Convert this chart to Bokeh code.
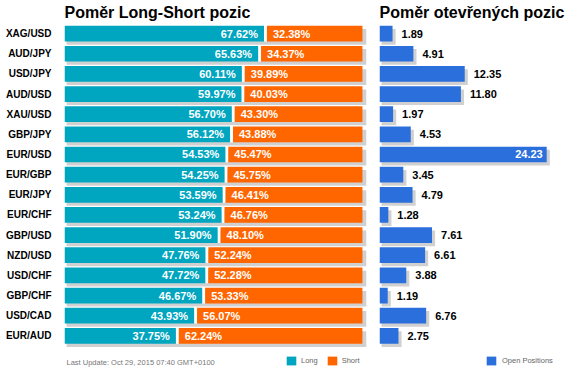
from bokeh.plotting import figure
from bokeh.models import Range1d, FixedTicker, ColumnDataSource, Legend, LegendItem, Label
from bokeh.layouts import row
from bokeh.embed import file_html
from bokeh.resources import INLINE
from bokeh.core.properties import value

pairs = ["XAG/USD", "AUD/JPY", "USD/JPY", "AUD/USD", "XAU/USD", "GBP/JPY", "EUR/USD", "EUR/GBP",
         "EUR/JPY", "EUR/CHF", "GBP/USD", "NZD/USD", "USD/CHF", "GBP/CHF", "USD/CAD", "EUR/AUD"]
long_pct = [67.62, 65.63, 60.11, 59.97, 56.70, 56.12, 54.53, 54.25, 53.59, 53.24, 51.90, 47.76, 47.72, 46.67, 43.93, 37.75]
short_pct = [32.38, 34.37, 39.89, 40.03, 43.30, 43.88, 45.47, 45.75, 46.41, 46.76, 48.10, 52.24, 52.28, 53.33, 56.07, 62.24]
open_pos = [1.89, 4.91, 12.35, 11.80, 1.97, 4.53, 24.23, 3.45, 4.79, 1.28, 7.61, 6.61, 3.88, 1.19, 6.76, 2.75]
update_text = "Last Update: Oct 29, 2015 07:40 GMT+0100"

TEAL = "#00A5BF"
ORANGE = "#FF6600"
BLUE = "#2A6FDB"
SHADOW = "#D0D0D0"
FONT = "Liberation Sans"

n = len(pairs)
idx = list(range(n))
BAR_H = 0.78
DY = 0.16          # shadow vertical offset (~3px)
GAP = 1.0          # gap between long and short (~3px)

src = ColumnDataSource(dict(
    y=idx,
    ys=[i + DY for i in idx],
    long=long_pct,
    short_left=[l + GAP for l in long_pct],
    short_right=[l + GAP + s for l, s in zip(long_pct, short_pct)],
    gap_right=[l + GAP for l in long_pct],
    long_lab=[f"{v:.2f}%" for v in long_pct],
    short_lab=[f"{v:.2f}%" for v in short_pct],
    sh_left=[0.7] * n,
    sh_right=[l + GAP + s + 1.3 for l, s in zip(long_pct, short_pct)],
))

y_range = Range1d(start=n - 1 + 1.82, end=-0.6)


def style(p):
    p.grid.visible = False
    p.outline_line_color = None
    p.xaxis.visible = False
    p.title.text_font = FONT
    p.title.text_font_size = "16px"
    p.title.text_font_style = "bold"
    p.title.text_color = "#000000"
    p.title.align = "left"
    p.title.offset = 0
    p.title.standoff = 2


p1 = figure(width=368, height=372, x_range=Range1d(0, 103.05), y_range=y_range,
            output_backend="svg", toolbar_location=None,
            min_border_left=64, min_border_right=0, min_border_top=0, min_border_bottom=0,
            title="Poměr Long-Short pozic")
style(p1)
p1.yaxis.ticker = FixedTicker(ticks=idx)
p1.yaxis.major_label_overrides = {i: pairs[i] for i in idx}
p1.yaxis.axis_line_color = None
p1.yaxis.major_tick_line_color = None
p1.yaxis.minor_tick_line_color = None
p1.yaxis.major_tick_out = 0
p1.yaxis.major_tick_in = 0
p1.yaxis.major_label_standoff = 13
p1.yaxis.major_label_text_font = FONT
p1.yaxis.major_label_text_font_size = "10px"
p1.yaxis.major_label_text_font_style = "bold"
p1.yaxis.major_label_text_color = "#000000"

p1.hbar(y="ys", left="sh_left", right="sh_right", height=BAR_H, source=src,
        fill_color=SHADOW, line_color=None)
p1.hbar(y="y", left="long", right="gap_right", height=BAR_H, source=src,
        fill_color="white", line_color=None)
r_long = p1.hbar(y="y", left=0, right="long", height=BAR_H, source=src,
                 fill_color=TEAL, line_color=None)
r_short = p1.hbar(y="y", left="short_left", right="short_right", height=BAR_H, source=src,
                  fill_color=ORANGE, line_color=None)
p1.text(x="long", y="y", text="long_lab", source=src, x_offset=-6,
        text_align="right", text_baseline="middle", text_color="white",
        text_font=value(FONT), text_font_size="11px", text_font_style="bold")
p1.text(x="short_left", y="y", text="short_lab", source=src, x_offset=6,
        text_align="left", text_baseline="middle", text_color="white",
        text_font=value(FONT), text_font_size="11px", text_font_style="bold")

leg1 = Legend(items=[LegendItem(label="Long", renderers=[r_long]),
                     LegendItem(label="Short", renderers=[r_short])],
              location=(221, 6), orientation="horizontal", padding=0, margin=0,
              border_line_color=None, background_fill_alpha=0,
              glyph_width=12, glyph_height=11, label_standoff=4, spacing=8,
              label_text_font=FONT, label_text_font_size="7.5px", label_text_color="#666666",
              label_width=10, label_height=11)
p1.add_layout(leg1)
p1.add_layout(Label(x=2, y=10, x_units="screen", y_units="screen", text=update_text,
                    text_font=FONT, text_font_size="7.5px", text_color="#777777",
                    text_baseline="middle"))

# right chart
src2 = ColumnDataSource(dict(
    y=idx, ys=[i + DY for i in idx], v=open_pos,
    sh_left=[0.3] * n, sh_right=[v + 0.45 for v in open_pos],
))
inside = [i for i in idx if open_pos[i] > 20]
outside = [i for i in idx if open_pos[i] <= 20]
lab_out = ColumnDataSource(dict(x=[open_pos[i] for i in outside], y=outside,
                                t=[f"{open_pos[i]:.2f}" for i in outside]))
lab_in = ColumnDataSource(dict(x=[open_pos[i] for i in inside], y=inside,
                               t=[f"{open_pos[i]:.2f}" for i in inside]))

p2 = figure(width=198, height=372, x_range=Range1d(0, 27.1), y_range=y_range,
            output_backend="svg", toolbar_location=None,
            min_border_left=11, min_border_right=0, min_border_top=0, min_border_bottom=0,
            title="Poměr otevřených pozic")
style(p2)
p2.yaxis.visible = False
p2.hbar(y="ys", left="sh_left", right="sh_right", height=BAR_H, source=src2,
        fill_color=SHADOW, line_color=None)
r_open = p2.hbar(y="y", left=0, right="v", height=BAR_H, source=src2,
                 fill_color=BLUE, line_color=None)
p2.text(x="x", y="y", text="t", source=lab_out, x_offset=9,
        text_align="left", text_baseline="middle", text_color="#000000",
        text_font=value(FONT), text_font_size="11px", text_font_style="bold")
p2.text(x="x", y="y", text="t", source=lab_in, x_offset=-4,
        text_align="right", text_baseline="middle", text_color="white",
        text_font=value(FONT), text_font_size="11px", text_font_style="bold")
leg2 = Legend(items=[LegendItem(label="Open Positions", renderers=[r_open])],
              location=(106, 6), orientation="horizontal", padding=0, margin=0,
              border_line_color=None, background_fill_alpha=0,
              glyph_width=12, glyph_height=11, label_standoff=5,
              label_text_font=FONT, label_text_font_size="7.5px", label_text_color="#666666",
              label_height=11)
p2.add_layout(leg2)

layout = row(p1, p2)
open("out.html", "w").write(file_html(layout, INLINE))
